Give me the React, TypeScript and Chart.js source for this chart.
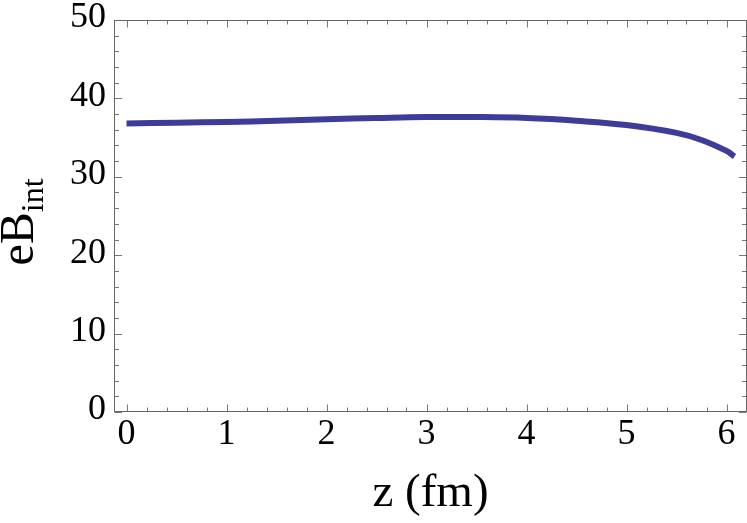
import React, { useEffect, useRef } from "react";
import { Chart, registerables } from "chart.js";

Chart.register(...registerables);

// ---- data ----
const zValues = [0, 0.5, 1, 1.5, 2, 2.5, 3, 3.5, 4, 4.5, 5, 5.5, 5.75, 6, 6.08];
const eBValues = [36.8, 36.9, 37.0, 37.15, 37.35, 37.5, 37.62, 37.62, 37.5, 37.15, 36.6, 35.6, 34.7, 33.3, 32.6];
const xTickValues = [0, 1, 2, 3, 4, 5, 6];
const yTickValues = [0, 10, 20, 30, 40, 50];
const xMinorValues = [0.2, 0.4, 0.6, 0.8, 1.2, 1.4, 1.6, 1.8, 2.2, 2.4, 2.6, 2.8, 3.2, 3.4, 3.6, 3.8, 4.2, 4.4, 4.6, 4.8, 5.2, 5.4, 5.6, 5.8, 6.2];
const yMinorValues = [2, 4, 6, 8, 12, 14, 16, 18, 22, 24, 26, 28, 32, 34, 36, 38, 42, 44, 46, 48];
const xTitle = "z (fm)";
const yTitleMain = "eB";
const yTitleSub = "int";

const SERIF = "'Liberation Serif', 'Times New Roman', serif";

const framePlugin = {
  id: "frameTicks",
  afterDraw(chart: any) {
    const { ctx, chartArea } = chart;
    const xs = chart.scales.x;
    const ys = chart.scales.y;
    const L = chartArea.left + 0.5;
    const R = chartArea.right - 0.5;
    const T = chartArea.top + 0.5;
    const B = chartArea.bottom - 0.5;
    ctx.save();
    ctx.lineWidth = 1;
    ctx.strokeStyle = "#777777";
    const tick = (x1: number, y1: number, x2: number, y2: number) => {
      ctx.beginPath();
      ctx.moveTo(x1, y1);
      ctx.lineTo(x2, y2);
      ctx.stroke();
    };
    const xt = (vals: number[], len: number) => {
      vals.forEach((v) => {
        const p = Math.round(xs.getPixelForValue(v)) + 0.5;
        if (p < L || p > R) return;
        tick(p, B, p, B - len);
        tick(p, T, p, T + len);
      });
    };
    const yt = (vals: number[], len: number) => {
      vals.forEach((v) => {
        const p = Math.round(ys.getPixelForValue(v)) + 0.5;
        if (p < T - 1 || p > B + 1) return;
        tick(L, p, L + len, p);
        tick(R, p, R - len, p);
      });
    };
    xt(xTickValues, 7);
    xt(xMinorValues, 4);
    yt(yTickValues, 7.5);
    yt(yMinorValues, 4.5);
    ctx.strokeStyle = "#666666";
    ctx.strokeRect(L, T, R - L, B - T);

    // y-axis title with subscript
    ctx.fillStyle = "#000000";
    ctx.textBaseline = "alphabetic";
    ctx.textAlign = "left";
    const mainFont = `48px ${SERIF}`;
    const subFont = `32px ${SERIF}`;
    ctx.font = mainFont;
    const w1 = ctx.measureText(yTitleMain).width;
    ctx.font = subFont;
    const w2 = ctx.measureText(yTitleSub).width;
    const total = w1 + w2;
    ctx.translate(33, 222);
    ctx.rotate(-Math.PI / 2);
    ctx.font = mainFont;
    ctx.fillText(yTitleMain, -total / 2, 0);
    ctx.font = subFont;
    ctx.fillText(yTitleSub, -total / 2 + w1, 10);
    ctx.restore();
  },
};

export default function App() {
  const ref = useRef<HTMLCanvasElement | null>(null);
  useEffect(() => {
    if (!ref.current) return;
    const chart = new Chart(ref.current, {
      type: "line",
      data: {
        datasets: [
          {
            data: zValues.map((z, i) => ({ x: z, y: eBValues[i] })),
            borderColor: "#3d3d99",
            borderWidth: 6,
            borderCapStyle: "butt",
            pointRadius: 0,
            tension: 0.4,
            fill: false,
          },
        ],
      },
      options: {
        animation: false,
        responsive: false,
        devicePixelRatio: 1,
        layout: { padding: { top: 20, left: 0, right: 0, bottom: 0 } },
        plugins: { legend: { display: false }, tooltip: { enabled: false } },
        scales: {
          x: {
            type: "linear",
            min: -0.125,
            max: 6.205,
            afterBuildTicks: (s: any) => {
              s.ticks = xTickValues.map((v) => ({ value: v }));
            },
            afterFit: (s: any) => {
              s.height = 111;
              s.paddingLeft = 0;
              s.paddingRight = 0;
              s.paddingTop = 0;
              s.paddingBottom = 0;
            },
            grid: { display: false, drawTicks: false },
            border: { display: false },
            ticks: {
              font: { family: SERIF, size: 36 },
              color: "#000000",
              padding: 1,
              maxRotation: 0,
              autoSkip: false,
            },
            title: {
              display: true,
              text: xTitle,
              font: { family: SERIF, size: 47 },
              color: "#000000",
              padding: { top: 0, bottom: 1 },
            },
          },
          y: {
            type: "linear",
            min: 0,
            max: 50,
            afterBuildTicks: (s: any) => {
              s.ticks = yTickValues.map((v) => ({ value: v }));
            },
            afterFit: (s: any) => {
              s.width = 114;
              s.paddingLeft = 0;
              s.paddingRight = 0;
              s.paddingTop = 0;
              s.paddingBottom = 0;
            },
            grid: { display: false, drawTicks: false },
            border: { display: false },
            ticks: {
              font: { family: SERIF, size: 36 },
              color: "#000000",
              padding: 8,
              labelOffset: -2,
              autoSkip: false,
            },
          },
        },
      },
      plugins: [framePlugin],
    } as any);
    return () => chart.destroy();
  }, []);
  return (
    <div style={{ position: "fixed", left: 0, top: 0, width: 747, height: 523, background: "#fff" }}>
      <canvas ref={ref} width={747} height={523} style={{ display: "block" }} />
    </div>
  );
}
